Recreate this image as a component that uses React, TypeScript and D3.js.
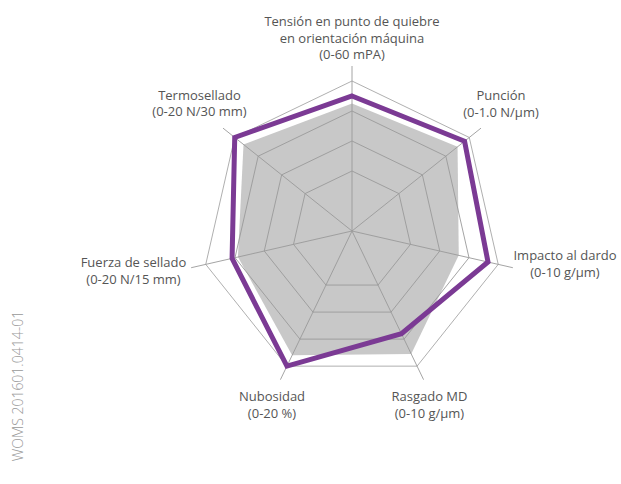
import { useEffect, useRef } from 'react';
import * as d3 from 'd3';

// axis order: clockwise from the top
const axisTitles = [
  ['Tensión en punto de quiebre', 'en orientación máquina'],
  ['Punción'],
  ['Impacto al dardo'],
  ['Rasgado MD'],
  ['Nubosidad'],
  ['Fuerza de sellado'],
  ['Termosellado'],
];
const axisUnits = [
  '(0-60 mPA)',
  '(0-1.0 N/µm)',
  '(0-10 g/µm)',
  '(0-10 g/µm)',
  '(0-20 %)',
  '(0-20 N/15 mm)',
  '(0-20 N/30 mm)',
];
const axisMax = [60, 1.0, 10, 10, 20, 20, 20];

// grey reference film
const referenceValues = [51, 0.9, 7.3, 9.1, 18.4, 15.6, 18.5];
// purple product
const productValues = [54, 0.96, 9.3, 7.6, 20, 16.4, 20];

const gridLevels = [0.4, 0.6, 0.8, 1.0];
const footnote = 'WOMS 201601.0414-01';

// label anchors (x, first baseline)
const labelPos = [
  [352, 26],
  [501, 100],
  [565, 260],
  [429.5, 401],
  [272, 401],
  [133.5, 267],
  [199.5, 99.5],
];

export default function App() {
  const svgRef = useRef<SVGSVGElement>(null);
  const width = 621;
  const height = 484;

  useEffect(() => {
    if (!svgRef.current) return;
    const svg = d3.select(svgRef.current);
    svg.selectAll('*').remove();

    const cx = 352;
    const cy = 231;
    const R = 150;
    const n = axisMax.length;
    const font = "'Open Sans', sans-serif";

    const angle = d3.scaleLinear().domain([0, n]).range([0, 2 * Math.PI]);
    const radius = axisMax.map(m => d3.scaleLinear().domain([0, m]).range([0, R]));

    const pt = (i: number, r: number): [number, number] => [
      cx + r * Math.sin(angle(i)),
      cy - r * Math.cos(angle(i)),
    ];

    const closed = d3.line().curve(d3.curveLinearClosed);
    const g = svg.append('g');

    // grey reference area
    g.append('path')
      .attr('d', closed(referenceValues.map((v, i) => pt(i, radius[i](v)))))
      .attr('fill', '#c8c8c8')
      .attr('stroke', 'none');

    // rings
    gridLevels.forEach(l => {
      g.append('path')
        .attr('d', closed(d3.range(n).map(i => pt(i, l * R))))
        .attr('fill', 'none')
        .attr('stroke', l === 1 ? '#a6a6a6' : '#9a9a9a')
        .attr('stroke-width', 0.9);
    });

    // spokes
    d3.range(n).forEach(i => {
      const [x2, y2] = pt(i, R * 1.1);
      g.append('line')
        .attr('x1', cx)
        .attr('y1', cy)
        .attr('x2', x2)
        .attr('y2', y2)
        .attr('stroke', '#9a9a9a')
        .attr('stroke-width', 0.9);
    });

    // product outline
    g.append('path')
      .attr('d', closed(productValues.map((v, i) => pt(i, radius[i](v)))))
      .attr('fill', 'none')
      .attr('stroke', '#7b3a94')
      .attr('stroke-width', 5)
      .attr('stroke-linejoin', 'miter');

    // labels
    axisTitles.forEach((lines, i) => {
      const [x, y] = labelPos[i];
      const t = g.append('text')
        .attr('x', x)
        .attr('y', y)
        .attr('text-anchor', 'middle')
        .attr('font-family', font)
        .attr('fill', '#555');
      lines.forEach((s, k) => {
        t.append('tspan')
          .attr('x', x)
          .attr('dy', k === 0 ? 0 : 16.5)
          .attr('font-size', 13)
          .text(s);
      });
      t.append('tspan')
        .attr('x', x)
        .attr('dy', 16.5)
        .attr('font-size', 13)
        .text(axisUnits[i]);
    });

    g.append('text')
      .attr('transform', 'translate(23,386) rotate(-90)')
      .attr('text-anchor', 'middle')
      .attr('font-family', font)
      .attr('font-size', 14)
      .attr('font-weight', 300)
      .attr('fill', '#999')
      .text(footnote);
  }, []);

  return (
    <svg
      ref={svgRef}
      width={width}
      height={height}
      style={{ position: 'absolute', left: 0, top: 0, background: '#fff' }}
    />
  );
}
